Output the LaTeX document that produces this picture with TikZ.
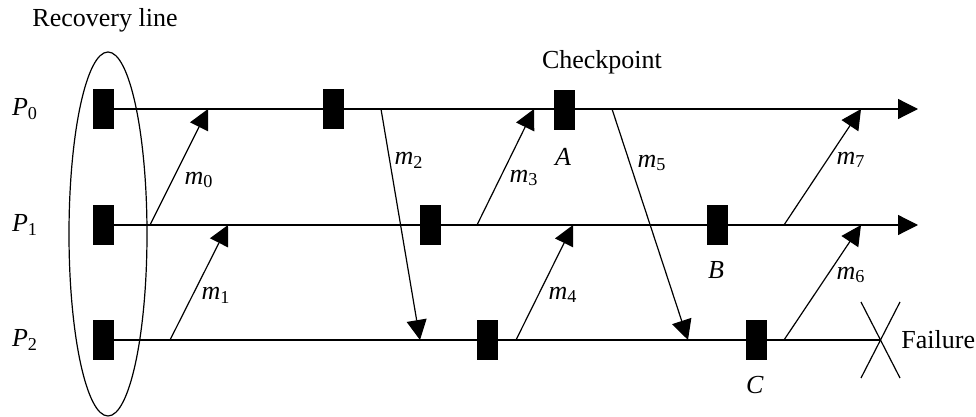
\documentclass[tikz,border=0pt]{standalone}
\usepackage{fontspec}
\setmainfont{Liberation Serif}
\usetikzlibrary{arrows.meta, positioning}
\newcommand{\pname}[2]{\textit{#1}\textsubscript{#2}}

\begin{document}
\begin{tikzpicture}[
	x=0.5pt, y=-0.5pt,
	every node/.style = {font=\fontsize{13}{15}\selectfont, inner sep=1pt},
	ckpt/.style = {fill=black, minimum width=10.5pt, minimum height=20pt, inner sep=0pt},
	tline/.style = {line width=0.6pt},
	msg/.style = {line width=0.6pt, -{Triangle[length=10pt, width=10pt]}}
     ]
\useasboundingbox (0,0) rectangle (976,417);
% processes and checkpoints
\foreach \p/\y in {0/109, 1/225, 2/340}
		\node (p\p) at (25,\y) {\pname{P}{\p}};
\foreach \n/\x/\y in {00/103/109, 01/333/109, A/564/110,
                      10/103/225, 11/430/225, B/717/225,
                      20/103/340, 21/487/340, C/756/340}
		\node[ckpt] (ck\n) at (\x,\y) {};
%
\coordinate (end0) at (918,109);
\coordinate (end1) at (918,225);
\coordinate (fail) at (880,340);
\draw[tline,-{Triangle[length=10pt, width=10pt]}] (ck00.east) -- (end0);
\draw[tline,-{Triangle[length=10pt, width=10pt]}] (ck10.east) -- (end1);
\draw[tline] (ck20.east) -- (fail);
% messages
\foreach \i/\sx/\sy/\tx/\ty/\lx/\ly in {0/150/225/208/109/199/180,
                                         1/170/340/228/225/216/295,
                                         2/381/109/420/340/409/160,
                                         3/477/225/534/109/524/178,
                                         4/516/340/573/225/563/295,
                                         5/612/109/688/340/652/163,
                                         6/784/340/861/225/851/275,
                                         7/784/225/861/109/851/160}
{
		\coordinate (s\i) at (\sx,\sy);
		\coordinate (r\i) at (\tx,\ty);
		\draw[msg] (s\i) -- (r\i);
		\node (m\i) at (\lx,\ly) {\pname{m}{\i}};
}
% checkpoint names
\node (lA) at (563,157) {\textit{A}};
\node (lB) at (716,270) {\textit{B}};
\node (lC) at (755,385) {\textit{C}};
\node (chk) at (602,62) {Checkpoint};
% recovery line
\draw[tline] (108,234) ellipse [x radius=19.5pt, y radius=91pt];
\node[anchor=base] (rec) at (105,27) {Recovery line};
% failure
\draw[tline] (861,302) -- (900,378);
\draw[tline] (900,302) -- (861,378);
\node[anchor=west] (flr) at (899,340) {Failure};
\end{tikzpicture}
\end{document}
